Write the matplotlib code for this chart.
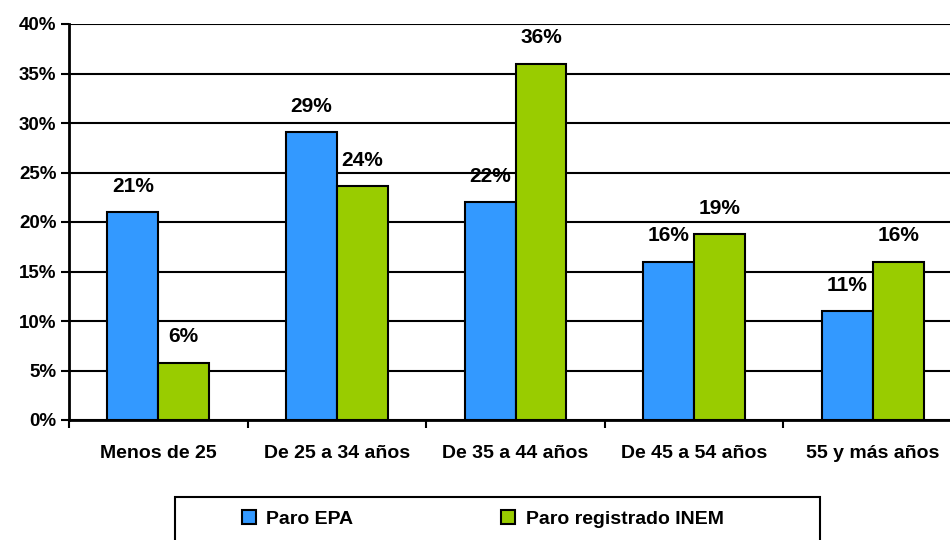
import numpy as np
import matplotlib.pyplot as plt
from matplotlib.patches import Rectangle

plt.rcParams['font.family'] = ['Liberation Sans', 'DejaVu Sans']
plt.rcParams['font.weight'] = 'bold'

categories = ['Menos de 25', 'De 25 a 34 años', 'De 35 a 44 años',
              'De 45 a 54 años', '55 y más años']
paro_epa = [21.0, 29.1, 22.0, 16.0, 11.0]
paro_inem = [5.8, 23.6, 36.0, 18.8, 16.0]
labels_epa = ['21%', '29%', '22%', '16%', '11%']
labels_inem = ['6%', '24%', '36%', '19%', '16%']
series_names = ['Paro EPA', 'Paro registrado INEM']

blue = '#3399FF'
green = '#99CC00'

fig = plt.figure(figsize=(9.5, 5.4), dpi=100)
W, H = 950, 540
ax = fig.add_axes([69 / W, 1 - 420 / H, (962 - 69) / W, (420 - 24) / H])

x = np.arange(len(categories))
w = 0.285
b1 = ax.bar(x - w / 2, paro_epa, w, color=blue, edgecolor='black', linewidth=1.5,
            zorder=3, label=series_names[0])
b2 = ax.bar(x + w / 2, paro_inem, w, color=green, edgecolor='black', linewidth=1.5,
            zorder=3, label=series_names[1])

for rects, labs in ((b1, labels_epa), (b2, labels_inem)):
    for r, lab in zip(rects, labs):
        ax.annotate(lab, (r.get_x() + r.get_width() / 2, r.get_height()),
                    xytext=(0, 14.5), textcoords='offset points', ha='center',
                    va='baseline', fontsize=15, fontweight='bold', zorder=4)

ax.set_xlim(-0.5, len(categories) - 0.5)
ax.set_ylim(0, 40)
ax.set_yticks(np.arange(0, 41, 5))
ax.set_yticklabels([f'{v}%' for v in range(0, 41, 5)], fontsize=13.5, fontweight='bold')
ax.yaxis.grid(True, color='black', linewidth=1.5, zorder=0)
ax.set_axisbelow(True)

ax.set_xticks(np.arange(-0.5, len(categories), 1))
ax.set_xticklabels([])
ax.set_xticks(x, minor=True)
ax.set_xticklabels(categories, minor=True, fontsize=14, fontweight='bold')
ax.tick_params(axis='x', which='minor', length=0, pad=18)
ax.tick_params(axis='x', which='major', length=6, width=1.5, direction='out')
ax.tick_params(axis='y', length=6, width=1.5, direction='out', pad=3)

for s in ['top', 'right']:
    ax.spines[s].set_visible(False)
for s in ['left', 'bottom']:
    ax.spines[s].set_linewidth(2)

# legend with its own frame
fig.patches.append(Rectangle((175 / W, -0.05), (820 - 175) / W, 0.05 + 1 - 497 / H,
                             transform=fig.transFigure, fill=False,
                             edgecolor='black', linewidth=1.5))
fig.legend(handles=[b1, b2], loc='center left', bbox_to_anchor=(242 / W, 1 - 519 / H),
           ncol=2, frameon=False, prop={'size': 14, 'weight': 'bold'},
           borderpad=0, borderaxespad=0,
           handlelength=0.7, handleheight=0.7, handletextpad=0.55, columnspacing=7.6)

fig.savefig('out.png', dpi=100)
